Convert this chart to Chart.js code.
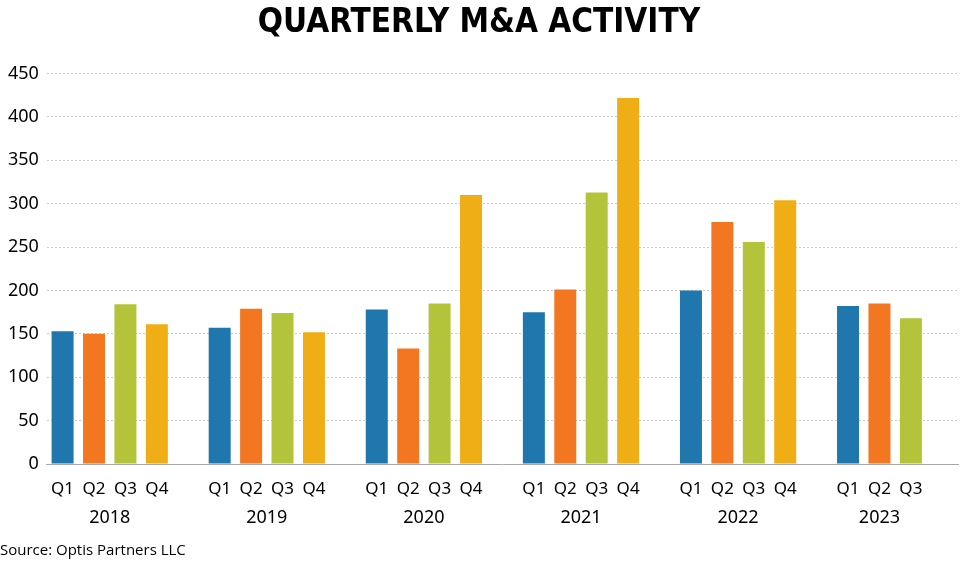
<!DOCTYPE html>
<html>
<head>
<meta charset="utf-8">
<script src="https://cdn.jsdelivr.net/npm/chart.js@4/dist/chart.umd.min.js"></script>
<style>
  html, body { margin:0; padding:0; background:#fff; }
  #wrap { width:960px; height:576px; position:relative; }
</style>
</head>
<body>
<div id="wrap"><canvas id="chart" width="960" height="576"></canvas></div>
<script>
// ── data ─────────────────────────────────────────────
const years    = ['2018', '2019', '2020', '2021', '2022', '2023'];
const quarters = ['Q1', 'Q2', 'Q3', 'Q4'];
const q1 = [153, 157, 178, 175, 200, 182];
const q2 = [150, 179, 133, 201, 279, 185];
const q3 = [184, 174, 185, 313, 256, 168];
const q4 = [161, 152, 310, 422, 304, null];
const yTicks = [0, 50, 100, 150, 200, 250, 300, 350, 400, 450];

const qColors = ['#1f77ad', '#f37721', '#b3c43a', '#efae16'];
const series  = [q1, q2, q3, q4];

// one slot per quarter, one empty slot between years
const labels = [], values = [], colors = [], yearCenters = [];
years.forEach((yr, i) => {
  if (i > 0) { labels.push(''); values.push(null); colors.push('#fff'); }
  const idx = [];
  quarters.forEach((q, j) => {
    const v = series[j][i];
    if (v != null) idx.push(labels.length);
    labels.push(v != null ? q : '');
    values.push(v);
    colors.push(qColors[j]);
  });
  yearCenters.push(idx.reduce((a, b) => a + b, 0) / idx.length);
});

const FONT = '"Noto Sans", "Open Sans", sans-serif';

new Chart(document.getElementById('chart'), {
  type: 'bar',
  data: { labels, datasets: [{ data: values, backgroundColor: colors,
    categoryPercentage: 1, barPercentage: 0.7 }] },
  options: {
    responsive: false, animation: false,
    layout: { padding: { left: 0, right: 2, top: 0, bottom: 0 } },
    plugins: {
      legend: { display: false }, tooltip: { enabled: false },
      title: { display: true, text: 'QUARTERLY M\u0026A ACTIVITY', color: '#000',
        font: { family: '"DejaVu Sans Condensed", sans-serif', size: 33, weight: 'bold' },
        padding: { top: 4, bottom: 30 } },
      subtitle: { display: true, position: 'bottom', align: 'start', text: 'Source: Optis Partners LLC',
        color: '#000', font: { family: '"Open Sans", sans-serif', size: 15 },
        padding: { top: 13, bottom: 16 } }
    },
    scales: {
      x: {
        // tick marks are hidden, tickLength only spaces the labels
        grid: { display: false, tickLength: 15 },
        border: { display: true, color: '#a8a8a8', width: 1 },
        ticks: { autoSkip: false, maxRotation: 0, color: '#000', padding: 0,
          font: { family: FONT, size: 17 } }
      },
      yr: {
        type: 'linear', position: 'bottom', offset: false,
        min: -0.5, max: labels.length - 0.5,
        grid: { display: false, tickLength: 8 }, border: { display: false },
        afterBuildTicks: s => { s.ticks = yearCenters.map(v => ({ value: v })); },
        ticks: { autoSkip: false, maxRotation: 0, color: '#000', padding: 0,
          font: { family: FONT, size: 18 },
          callback: v => years[yearCenters.indexOf(v)] }
      },
      y: {
        min: 0, max: 450,
        afterBuildTicks: s => { s.ticks = yTicks.map(v => ({ value: v })); },
        grid: { color: '#cccccc', lineWidth: 1, drawTicks: false },
        border: { display: false, dash: [2, 2] },
        ticks: { color: '#000', padding: 8, font: { family: FONT, size: 18 } }
      }
    }
  }
});
</script>
</body>
</html>
